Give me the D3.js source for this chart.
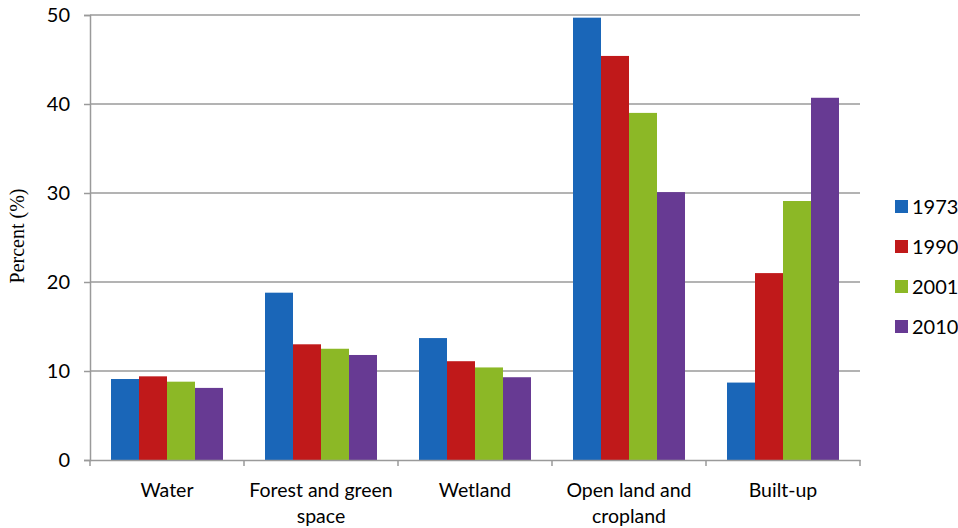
<html>
<script src="https://d3js.org/d3.v7.min.js"></script>
<style>
body{margin:0;background:#fff;}
svg{display:block;}
</style>
<body></body>
<script>
const width = 958;
const height = 528;

const categories = [['Water'], ['Forest and green', 'space'], ['Wetland'], ['Open land and', 'cropland'], ['Built-up']];
const years = ['1973', '1990', '2001', '2010'];
const colors = ['#1a66b8', '#c0191a', '#8cb826', '#673a93'];
const v1973 = [9.1, 18.8, 13.7, 49.7, 8.7];
const v1990 = [9.4, 13.0, 11.1, 45.4, 21.0];
const v2001 = [8.8, 12.5, 10.4, 39.0, 29.1];
const v2010 = [8.1, 11.8, 9.3, 30.1, 40.7];
const yTicks = [0, 10, 20, 30, 40, 50];

const series = [v1973, v1990, v2001, v2010];
const plotLeft = 90, plotRight = 860, plotTop = 15, plotBottom = 460;
const font = 'Lato, "Noto Sans", sans-serif';

const svg = d3.select('body').append('svg')
    .attr('width', width)
    .attr('height', height);

const y = d3.scaleLinear().domain([0, 50]).range([plotBottom, plotTop]);
const x = d3.scaleBand().domain(d3.range(categories.length)).range([plotLeft, plotRight]);
const inner = d3.scaleBand().domain(d3.range(years.length))
    .range([0, x.bandwidth()]).paddingOuter(0.75).paddingInner(0);

// gridlines
svg.selectAll('line.grid')
    .data(yTicks.filter(d => d > 0))
        .enter()
    .append('line')
        .attr('x1', plotLeft).attr('x2', plotRight)
        .attr('y1', d => y(d)).attr('y2', d => y(d))
        .attr('stroke', '#9a9a9a').attr('stroke-width', 1.5);

// bars
series.forEach((vals, s) => {
  svg.append('g').selectAll('rect')
      .data(vals)
          .enter()
      .append('rect')
          .attr('x', (d, i) => x(i) + inner(s))
          .attr('y', d => y(d))
          .attr('width', inner.bandwidth())
          .attr('height', d => y(0) - y(d))
          .attr('fill', colors[s]);
});

// y axis
const yAxis = svg.append('g')
    .attr('transform', `translate(${plotLeft},0)`)
    .call(d3.axisLeft(y).tickValues(yTicks).tickSize(6).tickPadding(14));
yAxis.select('.domain').attr('stroke', '#9a9a9a').attr('stroke-width', 1.5);
yAxis.selectAll('.tick line').attr('stroke', '#9a9a9a').attr('stroke-width', 1.5);
yAxis.selectAll('.tick text')
    .attr('font-family', font)
    .attr('font-size', 20).attr('fill', '#000');

// x axis
const xAxis = svg.append('g')
    .attr('transform', `translate(0,${plotBottom})`)
    .call(d3.axisBottom(x).tickValues([]).tickSizeOuter(0));
xAxis.select('.domain').attr('stroke', '#9a9a9a').attr('stroke-width', 1.5);
svg.selectAll('line.xtick')
    .data(d3.range(categories.length + 1))
        .enter()
    .append('line')
        .attr('x1', d => plotLeft + d * x.step()).attr('x2', d => plotLeft + d * x.step())
        .attr('y1', plotBottom).attr('y2', plotBottom + 6)
        .attr('stroke', '#9a9a9a').attr('stroke-width', 1.5);

// category labels
svg.selectAll('text.cat')
    .data(categories)
        .enter()
    .append('text')
        .attr('text-anchor', 'middle')
        .attr('font-family', font)
        .attr('font-size', 19.5).attr('fill', '#000')
    .each(function(lines, i) {
      const t = d3.select(this);
      lines.forEach((l, j) => {
        t.append('tspan')
            .attr('x', x(i) + x.bandwidth() / 2)
            .attr('y', 497 + j * 26)
            .text(l);
      });
    });

// y title
svg.append('text')
    .attr('transform', 'translate(24,236) rotate(-90)')
    .attr('text-anchor', 'middle')
    .attr('font-family', '"Liberation Serif", serif')
    .attr('font-size', 20).attr('fill', '#000')
    .text('Percent (%)');

// legend
const legend = svg.append('g').selectAll('g')
    .data(years)
        .enter()
    .append('g')
        .attr('transform', (d, i) => `translate(895,${207 + i * 40})`);
legend.append('rect')
    .attr('x', 0).attr('y', -7)
    .attr('width', 13).attr('height', 13)
    .attr('fill', (d, i) => colors[i]);
legend.append('text')
    .attr('x', 17).attr('y', 7)
    .attr('font-family', font)
    .attr('font-size', 20).attr('fill', '#000')
    .text(d => d);
</script>
</html>
